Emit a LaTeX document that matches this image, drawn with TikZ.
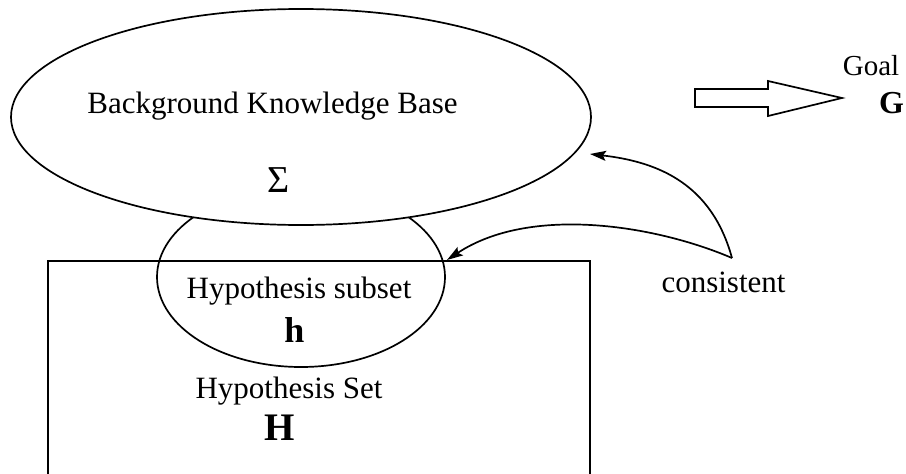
\documentclass[tikz,border=0pt]{standalone}
\usepackage{fontspec}
\setmainfont{Liberation Serif}
\usetikzlibrary{shapes.geometric,arrows.meta}
\begin{document}
\begin{tikzpicture}[x=1pt,y=-1pt,line width=1.7pt,
  lbl/.style={inner sep=0pt,anchor=base,font=\fontsize{31}{36}\selectfont},
  sym/.style={inner sep=0pt,anchor=base},
  conn/.style={-{Stealth[length=16pt,width=10pt,inset=3pt]}},
  setshape/.style={ellipse,draw,inner sep=0pt}]
\useasboundingbox (0,0) rectangle (906,474);
% hypothesis set box (bottom runs off the picture)
\node[draw,minimum width=542pt,minimum height=240pt,anchor=north west,inner sep=0pt] (hset) at (47,260) {};
% hypothesis subset ellipse
\node[setshape,minimum width=288pt,minimum height=180pt] (sub) at (301,277) {};
% background knowledge base ellipse
\node[setshape,fill=white,minimum width=580pt,minimum height=216pt] (kb) at (301,117) {};
% texts
\node[lbl] (kbt) at (272.5,113) {Background Knowledge Base};
\node[sym,font=\fontsize{38}{40}\selectfont] (sigma) at (278.5,192) {Σ};
\node[lbl] (subt) at (299,298) {Hypothesis subset};
\node[sym,font=\fontsize{36}{40}\selectfont\bfseries] (hh) at (294.5,342) {h};
\node[lbl] (hsett) at (289,398) {Hypothesis Set};
\node[sym,font=\fontsize{39}{40}\selectfont\bfseries] (HH) at (280,440) {H};
\node[lbl] (cons) at (723.5,292) {consistent};
\node[sym,font=\fontsize{29}{32}\selectfont] (goal) at (871,75) {Goal};
\node[sym,font=\fontsize{32}{36}\selectfont\bfseries] (G) at (891.5,113) {G};
% block arrow
\draw (695,89) -- (768,89) -- (768,81) -- (842,98) -- (768,116) -- (768,107) -- (695,107) -- cycle;
% consistency connectors
\coordinate (apex) at (732,258);
\coordinate (tipkb) at (590,154);
\coordinate (tiph) at (447,260);
\draw[conn] (apex) .. controls (712,185) and (660,162) .. (tipkb);
\draw[conn] (apex) .. controls (655,225) and (530,205) .. (tiph);
\end{tikzpicture}
\end{document}
